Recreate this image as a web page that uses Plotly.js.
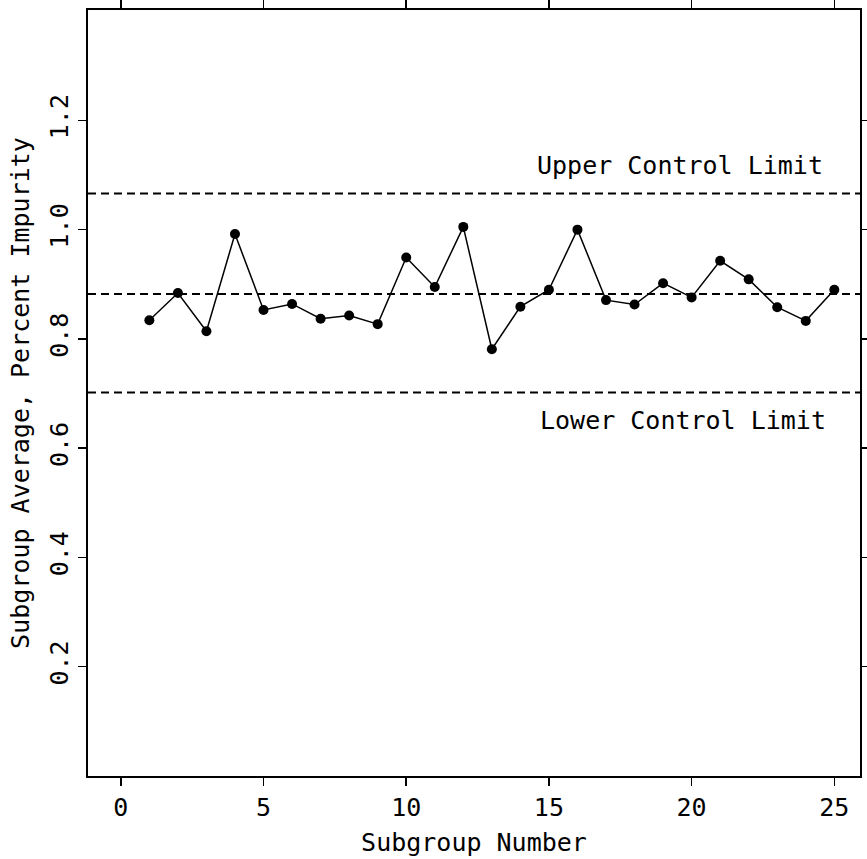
<!DOCTYPE html>
<html>
<head>
<meta charset="utf-8">
<script src="https://cdn.plot.ly/plotly-3.0.1.min.js"></script>
<style>html,body{margin:0;padding:0;background:#fff;}#chart{width:867px;height:859px;}</style>
</head>
<body>
<div id="chart"></div>
<script>
const subgroup = [1,2,3,4,5,6,7,8,9,10,11,12,13,14,15,16,17,18,19,20,21,22,23,24,25];
const average = [0.834,0.884,0.814,0.992,0.853,0.864,0.837,0.843,0.827,0.949,0.895,1.005,0.781,0.859,0.890,1.000,0.871,0.863,0.902,0.876,0.943,0.909,0.858,0.833,0.890];
const upperControlLimit = 1.066;
const centerLine = 0.882;
const lowerControlLimit = 0.702;
const xTicks = [0,5,10,15,20,25];
const yTicks = [0.2,0.4,0.6,0.8,1.0,1.2];
const yTickText = ["0.2","0.4","0.6","0.8","1.0","1.2"];

const FONT = "DejaVu Sans Mono, Liberation Mono, monospace";

const trace = {
  x: subgroup, y: average, type: 'scatter', mode: 'lines+markers',
  line: {color: '#000', width: 1.5},
  marker: {color: '#000', size: 10},
  hoverinfo: 'skip', showlegend: false
};

function hline(v) {
  return {type: 'line', xref: 'paper', x0: 0, x1: 1, yref: 'y', y0: v, y1: v,
    line: {color: '#000', width: 2, dash: '8px,5px'}};
}

const layout = {
  width: 867, height: 859,
  margin: {l: 88, r: 7, t: 10, b: 83},
  paper_bgcolor: '#fff', plot_bgcolor: '#fff',
  font: {family: FONT, size: 25, color: '#000'},
  xaxis: {
    range: [-1.15, 25.9], tickvals: xTicks, ticktext: xTicks.map(String),
    ticks: 'outside', ticklen: 8, tickwidth: 1.5, tickcolor: '#000',
    showline: true, linecolor: '#000', linewidth: 2, mirror: 'ticks',
    showgrid: false, zeroline: false,
    tickfont: {family: FONT, size: 25},
    title: {text: 'Subgroup Number', font: {family: FONT, size: 25}, standoff: 12}
  },
  yaxis: {
    range: [0, 1.402], tickvals: yTicks, ticktext: yTickText, tickangle: -90,
    ticks: 'outside', ticklen: 8, tickwidth: 1.5, tickcolor: '#000',
    showline: true, linecolor: '#000', linewidth: 2, mirror: 'ticks',
    showgrid: false, zeroline: false,
    tickfont: {family: FONT, size: 25},
    title: {text: 'Subgroup Average, Percent Impurity', font: {family: FONT, size: 25}, standoff: 8}
  },
  shapes: [hline(upperControlLimit), hline(centerLine), hline(lowerControlLimit)],
  annotations: [
    {text: 'Upper Control Limit', xref: 'paper', x: 0.955, xanchor: 'right', yref: 'y', y: 1.117, yanchor: 'middle', showarrow: false, font: {family: FONT, size: 25}},
    {text: 'Lower Control Limit', xref: 'paper', x: 0.959, xanchor: 'right', yref: 'y', y: 0.650, yanchor: 'middle', showarrow: false, font: {family: FONT, size: 25}}
  ]
};

Plotly.newPlot('chart', [trace], layout, {displayModeBar: false, staticPlot: true});
</script>
</body>
</html>
